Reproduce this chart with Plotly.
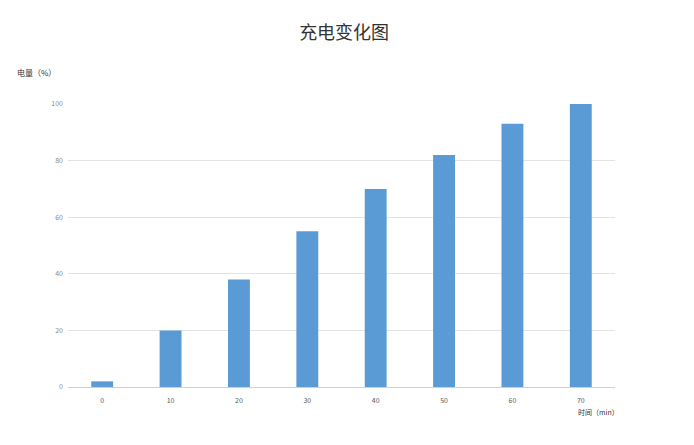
import plotly.graph_objects as go

categories = ["0", "10", "20", "30", "40", "50", "60", "70"]
charge = [2, 20, 38, 55, 70, 82, 93, 100]
y_ticks = [0, 20, 40, 60, 80, 100]

title_text = "充电变化图"
y_title = "电量（%）"
x_title = "时间（min）"

fig = go.Figure(
    go.Bar(
        x=categories,
        y=charge,
        marker=dict(color="#5b9bd5", line=dict(width=0)),
        width=0.32,
    )
)

fig.update_layout(
    width=686,
    height=437,
    margin=dict(l=60, r=79, t=96, b=58),
    paper_bgcolor="white",
    plot_bgcolor="white",
    showlegend=False,
    font=dict(family="Noto Sans CJK SC, Noto Sans, sans-serif", color="#595959"),
    title=dict(
        text=title_text,
        x=0.49,
        xanchor="center",
        y=0.943,
        yanchor="middle",
        font=dict(size=18, color="#333333", family="Noto Sans CJK SC"),
    ),
)

fig.update_xaxes(
    type="category",
    showgrid=False,
    showline=False,
    zeroline=False,
    ticks="",
    tickfont=dict(size=7, color="#595959"),
    ticklabelstandoff=8,
)

fig.update_yaxes(
    range=[0, 100],
    tickvals=y_ticks,
    showgrid=True,
    gridcolor="#e3e3e3",
    gridwidth=1,
    zeroline=True,
    zerolinecolor="#d0d0d0",
    zerolinewidth=1,
    showline=False,
    ticks="",
    tickfont=dict(size=7, color="#8c8c8c"),
    ticklabelstandoff=4,
)

fig.add_annotation(
    text=y_title, xref="paper", yref="paper", x=-0.057, y=1.113,
    xanchor="center", yanchor="middle", showarrow=False,
    font=dict(size=8, color="#333333", family="Noto Sans CJK SC"),
)
fig.add_annotation(
    text=x_title, xref="paper", yref="paper", x=0.969, y=-0.088,
    xanchor="center", yanchor="middle", showarrow=False,
    font=dict(size=7, color="#333333", family="Noto Sans CJK SC"),
)

fig.write_html("out.html")
